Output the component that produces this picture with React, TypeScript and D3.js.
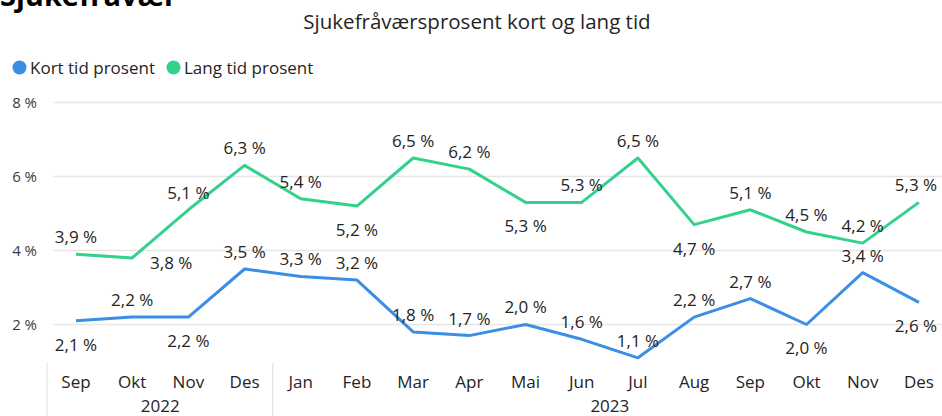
import React from "react";
import * as d3 from "d3";

const months = ["Sep", "Okt", "Nov", "Des", "Jan", "Feb", "Mar", "Apr", "Mai", "Jun", "Jul", "Aug", "Sep", "Okt", "Nov", "Des"];
const years = [
  { label: "2022", from: 0, to: 3 },
  { label: "2023", from: 4, to: 15 },
];
const kortTid = [2.1, 2.2, 2.2, 3.5, 3.3, 3.2, 1.8, 1.7, 2.0, 1.6, 1.1, 2.2, 2.7, 2.0, 3.4, 2.6];
const langTid = [3.9, 3.8, 5.1, 6.3, 5.4, 5.2, 6.5, 6.2, 5.3, 5.3, 6.5, 4.7, 5.1, 4.5, 4.2, 5.3];
// label placement: a = above, b = below, r = right-below
const kortPlace = ["b", "a", "b", "a", "a", "a", "a", "a", "a", "a", "a", "a", "a", "b", "a", "b"];
const langPlace = ["a", "r", "a", "a", "a", "b", "a", "a", "b", "a", "a", "b", "a", "a", "a", "a"];
const yTicks = [2, 4, 6, 8];

const W = 942;
const H = 416;
const FONT = "'Open Sans', 'Segoe UI', sans-serif";
const BLUE = "#3A8EE6";
const GREEN = "#33D28C";
const TEXT = "#252423";

const fmt = (v: number) => v.toFixed(1).replace(".", ",") + " %";

export default function App() {
  const x = d3.scaleBand<number>().domain(d3.range(months.length)).range([47.9, 947]).padding(0);
  const cx = (i: number) => (x(i) as number) + x.bandwidth() / 2;
  const y = d3.scaleLinear().domain([2, 8]).range([324.5, 102.5]);

  const line = d3
    .line<number>()
    .x((_, i) => cx(i))
    .y((d) => y(d));

  const labelPos = (v: number, i: number, p: string) => {
    let lx = cx(i);
    let ly = y(v);
    if (p === "a") ly -= 17;
    else if (p === "b") ly += 24;
    else {
      lx += 39;
      ly += 5;
    }
    lx = Math.min(lx, 916);
    return [lx, ly];
  };

  const series = [
    { data: kortTid, place: kortPlace, color: BLUE },
    { data: langTid, place: langPlace, color: GREEN },
  ];

  return (
    <svg width={W} height={H} style={{ position: "absolute", left: 0, top: 0, background: "#fff" }} fontFamily={FONT}>
      <text x={0} y={6} fontSize={29} fontWeight={700} fill="#000">Sjukefråvær</text>
      <text x={477} y={29} textAnchor="middle" fontSize={20.5} fill={TEXT}>
        Sjukefråværsprosent kort og lang tid
      </text>
      <circle cx={19.5} cy={67.5} r={7} fill={BLUE} />
      <text x={30} y={74} fontSize={17} fill={TEXT}>Kort tid prosent</text>
      <circle cx={173.5} cy={67.5} r={7} fill={GREEN} />
      <text x={184} y={74} fontSize={17} fill={TEXT}>Lang tid prosent</text>

      {yTicks.map((t) => (
        <g key={t}>
          <line x1={53} x2={W} y1={y(t)} y2={y(t)} stroke="#E6E6E6" strokeWidth={1.3} />
          <text x={37} y={y(t)} dy="0.35em" textAnchor="end" fontSize={15} fill="#3a3a3a">
            {t} %
          </text>
        </g>
      ))}

      {series.map((s, k) => (
        <path key={k} d={line(s.data) || ""} fill="none" stroke={s.color} strokeWidth={3} strokeLinejoin="round" />
      ))}

      {series.map((s, k) =>
        s.data.map((v, i) => {
          const [lx, ly] = labelPos(v, i, s.place[i]);
          return (
            <text key={`${k}-${i}`} x={lx} y={ly} dy="0.35em" textAnchor="middle" fontSize={17} fill={TEXT}>
              {fmt(v)}
            </text>
          );
        })
      )}

      {months.map((m, i) => (
        <text key={i} x={cx(i)} y={382} dy="0.35em" textAnchor="middle" fontSize={17} fill={TEXT}>
          {m}
        </text>
      ))}
      <line x1={47} x2={47} y1={363} y2={H} stroke="#E6E6E6" strokeWidth={1.3} />
      {years.map((yr) => {
        const left = x(yr.from) as number;
        const right = (x(yr.to) as number) + x.bandwidth();
        return (
          <g key={yr.label}>
            {yr.from > 0 && <line x1={left} x2={left} y1={363} y2={H} stroke="#E6E6E6" strokeWidth={1.3} />}
            <text x={(left + right) / 2} y={406} dy="0.35em" textAnchor="middle" fontSize={17} fill={TEXT}>
              {yr.label}
            </text>
          </g>
        );
      })}
    </svg>
  );
}
